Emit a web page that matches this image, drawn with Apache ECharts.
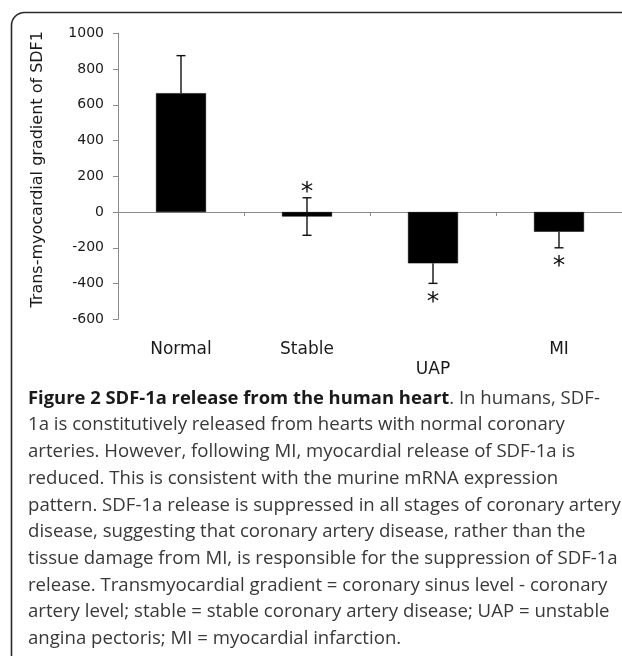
<!DOCTYPE html>
<html>
<head>
<meta charset="utf-8">
<style>
  html, body { margin: 0; padding: 0; background: #fff; }
  #chart { width: 622px; height: 656px; }
</style>
<script src="https://cdn.jsdelivr.net/npm/echarts@6/dist/echarts.min.js"></script>
</head>
<body>
<div id="chart"></div>
<script>
// ---- data ----
const categories = ['Normal', 'Stable', 'UAP', 'MI'];
const means = [665, -25, -287, -110];
const errors = [210, 105, 112, 90];
const errorSides = ['up', 'both', 'down', 'down'];
const marks = ['', '*', '*', '*'];
const yMin = -600, yMax = 1000, yStep = 200;
const yAxisTitle = 'Trans-myocardial gradient of SDF1';
const captionTitle = 'Figure 2 SDF-1a release from the human heart';
const captionLines = [
  '. In humans, SDF-',
  '1a is constitutively released from hearts with normal coronary',
  'arteries. However, following MI, myocardial release of SDF-1a is',
  'reduced. This is consistent with the murine mRNA expression',
  'pattern. SDF-1a release is suppressed in all stages of coronary artery',
  'disease, suggesting that coronary artery disease, rather than the',
  'tissue damage from MI, is responsible for the suppression of SDF-1a',
  'release. Transmyocardial gradient = coronary sinus level - coronary',
  'artery level; stable = stable coronary artery disease; UAP = unstable',
  'angina pectoris; MI = myocardial infarction.'
];

const chartFont = '"DejaVu Sans", Verdana, sans-serif';
const capFont = '"Open Sans", "Noto Sans", sans-serif';

const chart = echarts.init(document.getElementById('chart'), null, { renderer: 'canvas' });

const errData = categories.map((c, i) => [i, means[i], errors[i]]);

function renderErr(params, api) {
  const i = api.value(0), m = api.value(1), e = api.value(2);
  const side = errorSides[i];
  const c = api.coord([i, m]);
  const t = api.coord([i, m + e]);
  const b = api.coord([i, m - e]);
  const y1 = side === 'down' ? c[1] : t[1];
  const y2 = side === 'up' ? c[1] : b[1];
  const x = c[0];
  const cap = 4.5;
  const st = { stroke: '#111', lineWidth: 1.4 };
  const kids = [
    { type: 'line', shape: { x1: x, y1: y1, x2: x, y2: y2 }, style: st }
  ];
  if (side !== 'down') kids.push({ type: 'line', shape: { x1: x - cap, y1: t[1], x2: x + cap, y2: t[1] }, style: st });
  if (side !== 'up') kids.push({ type: 'line', shape: { x1: x - cap, y1: b[1], x2: x + cap, y2: b[1] }, style: st });
  if (marks[i]) {
    const below = side === 'down';
    const cy = below ? b[1] + 14 : t[1] - 10;
    kids.push({
      type: 'text',
      style: {
        text: marks[i], x: x, y: cy + 5, align: 'center', verticalAlign: 'middle',
        fontFamily: chartFont, fontSize: 25, fill: '#111'
      }
    });
  }
  return { type: 'group', children: kids };
}

const graphics = [
  {
    type: 'rect', silent: true,
    shape: { x: 11.5, y: 12.5, width: 800, height: 800, r: 13 },
    style: { fill: 'none', stroke: '#2a2a2a', lineWidth: 1.6 }
  }
];
captionLines.forEach((line, k) => {
  const txt = k === 0 ? '{b|' + captionTitle + '}{r|' + line + '}' : '{r|' + line + '}';
  graphics.push({
    type: 'text', silent: true,
    style: {
      text: txt, x: 28, y: 398.5 + k * 26.7, verticalAlign: 'middle', align: 'left',
      rich: {
        b: { fontFamily: capFont, fontSize: 18.4, fontWeight: 'bold', fill: '#1a1a1a' },
        r: { fontFamily: capFont, fontSize: 18.6, fill: '#383838' }
      }
    }
  });
});

const option = {
  animation: false,
  backgroundColor: '#fff',
  grid: { left: 118, right: 0, top: 33.3, bottom: 656 - 319.3, containLabel: false },
  xAxis: [
    {
      type: 'category', data: categories, position: 'bottom',
      axisLine: { onZero: true, lineStyle: { color: '#8a8a8a', width: 1 } },
      axisTick: { show: true, length: 4, alignWithLabel: false, lineStyle: { color: '#8a8a8a' } },
      axisLabel: { show: false },
      splitLine: { show: false }
    },
    {
      type: 'category', data: categories, position: 'bottom',
      axisLine: { show: false, onZero: false },
      axisTick: { show: false },
      axisLabel: {
        show: true, margin: 20, color: '#1a1a1a', fontFamily: chartFont, fontSize: 17,
        lineHeight: 20,
        formatter: (v) => v === 'UAP' ? '\n' + v : v
      },
      splitLine: { show: false }
    }
  ],
  yAxis: {
    type: 'value', min: yMin, max: yMax, interval: yStep,
    name: yAxisTitle, nameLocation: 'middle', nameGap: 72,
    nameTextStyle: { fontFamily: chartFont, fontSize: 16, color: '#1a1a1a', padding: [0, 0, 0, 14] },
    axisLine: { show: true, lineStyle: { color: '#8a8a8a', width: 1 } },
    axisTick: { show: true, length: 5, lineStyle: { color: '#8a8a8a' } },
    axisLabel: { margin: 14, color: '#1a1a1a', fontFamily: chartFont, fontSize: 14, formatter: (v) => String(v) },
    splitLine: { show: false }
  },
  series: [
    {
      type: 'bar', xAxisIndex: 0, data: means, barWidth: 50,
      itemStyle: { color: '#000', borderColor: '#000', borderWidth: 0.5 },
      silent: true
    },
    {
      type: 'custom', xAxisIndex: 0, data: errData, renderItem: renderErr,
      encode: { x: 0, y: 1 }, silent: true, z: 5
    }
  ],
  graphic: graphics
};
chart.setOption(option);
</script>
</body>
</html>
